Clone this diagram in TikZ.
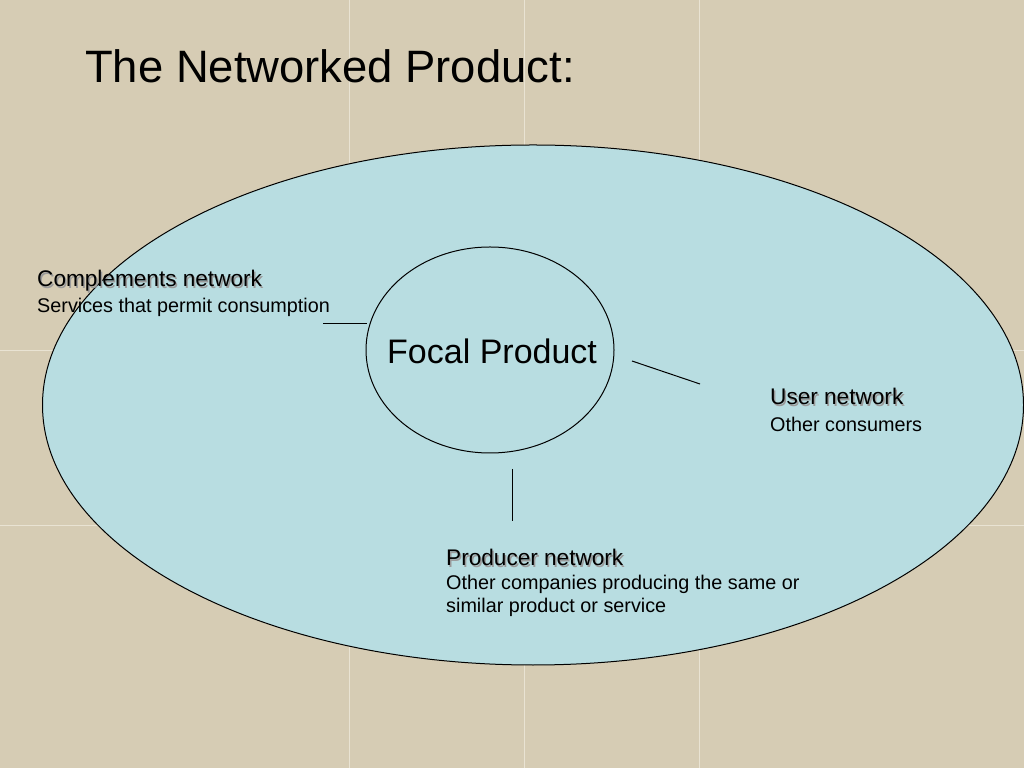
\documentclass[tikz,border=0pt]{standalone}
\usepackage{fontspec}
\setmainfont{Liberation Sans}
\usetikzlibrary{shapes.geometric}
\definecolor{bgc}{HTML}{D6CCB4}
\definecolor{gridc}{HTML}{E9E3D3}
\definecolor{fillc}{HTML}{B8DDE1}
\definecolor{shadc}{HTML}{9A9A9A}
\newcommand{\shtext}[1]{\makebox[0pt][l]{\hspace{1.5pt}\raisebox{-1.5pt}{\textcolor{shadc}{#1}}}#1}
\begin{document}
\begin{tikzpicture}[x=1pt,y=1pt,
  lbl/.style={anchor=base west,inner sep=0pt,text=black},
  head/.style={lbl,font=\fontsize{22.6}{24}\selectfont},
  sub/.style={lbl,font=\fontsize{19.8}{23.5}\selectfont},
  oval/.style={draw=black,line width=1pt,fill=fillc,ellipse,inner sep=0pt},
  conn/.style={draw=black,line width=1pt}]
\useasboundingbox (0,0) rectangle (1024,768);
\fill[bgc] (0,0) rectangle (1024,768);
\foreach \gx in {349,524,699} \draw[gridc,line width=0.8pt] (\gx,0) -- (\gx,768);
\foreach \gy in {350,525} \draw[gridc,line width=0.8pt] (0,768-\gy) -- (1024,768-\gy);
% title
\node[lbl,font=\fontsize{45.4}{52}\selectfont] (title) at (85,768-83) {The Networked Product:};
% ellipses
\node[oval,minimum width=981pt,minimum height=520pt] (big) at (533,768-405) {};
\node[oval,minimum width=248pt,minimum height=206pt] (focal) at (490,768-350) {};
\node[lbl,font=\fontsize{34}{40}\selectfont] (focaltxt) at (387,768-364) {Focal Product};
% labels
\node[head] (comp) at (37,768-287) {\shtext{Complements network}};
\node[sub] (compsub) at (37,768-313) {Services that permit consumption};
\node[head] (user) at (770,768-405) {\shtext{User network}};
\node[sub] (usersub) at (770,768-432) {Other consumers};
\node[head] (prod) at (446,768-566) {\shtext{Producer network}};
\node[sub] (prodsub) at (446,768-590) {Other companies producing the same or};
\node[sub] (prodsub2) at (446,768-613) {similar product or service};
% connectors
\coordinate (c1) at (323,768-324);
\coordinate (c2) at (367,768-324);
\coordinate (u1) at (632,768-361);
\coordinate (u2) at (700,768-384);
\coordinate (p1) at (512,768-469);
\coordinate (p2) at (512,768-521);
\draw[conn] (c1) -- (c2);
\draw[conn] (u1) -- (u2);
\draw[conn] (p1) -- (p2);
\end{tikzpicture}
\end{document}
